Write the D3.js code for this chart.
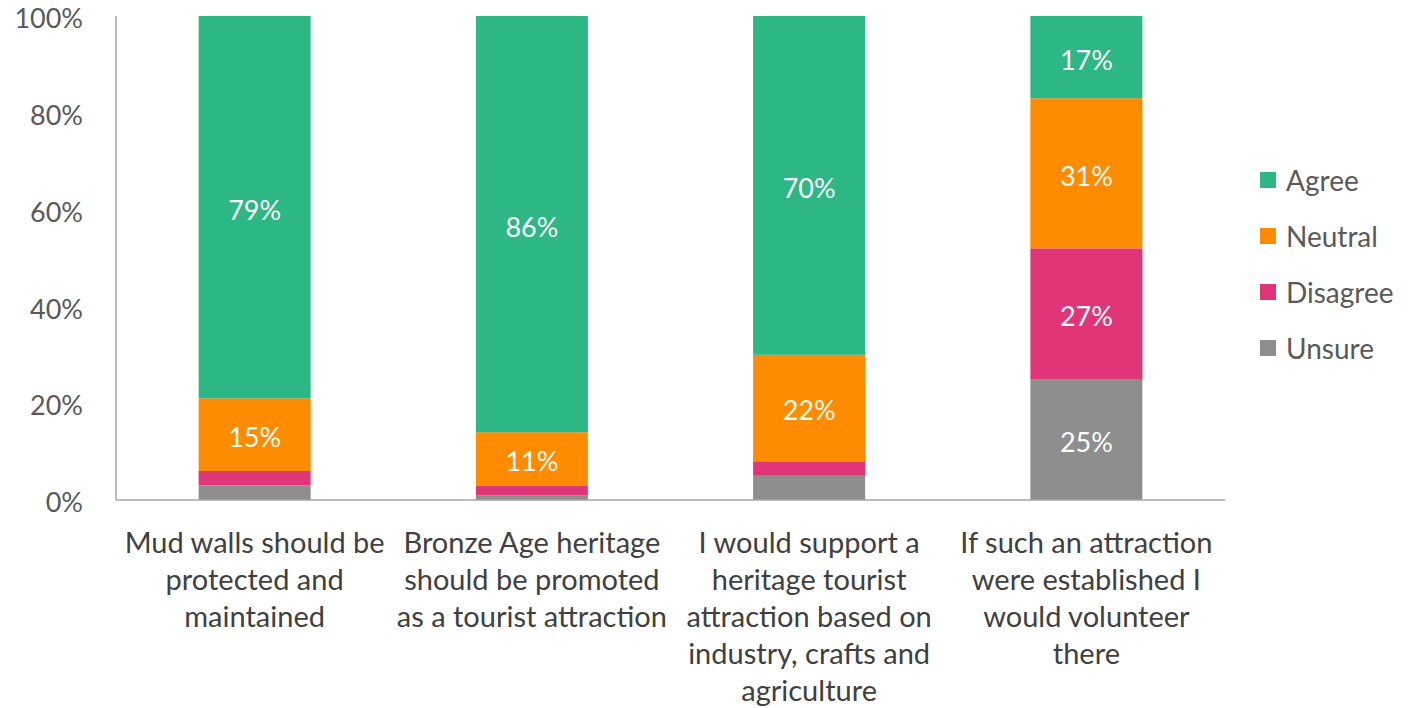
<!DOCTYPE html>
<html><head><meta charset="utf-8">
<script src="https://cdn.jsdelivr.net/npm/d3@7"></script>
<style>body{margin:0;background:#fff}svg text{font-family:"Lato","Open Sans",sans-serif}</style>
</head><body><svg id="c" width="1418" height="708"></svg>
<script>
const categories = [
  ["Mud walls should be","protected and","maintained"],
  ["Bronze Age heritage","should be promoted","as a tourist attraction"],
  ["I would support a","heritage tourist","attraction based on","industry, crafts and","agriculture"],
  ["If such an attraction","were established I","would volunteer","there"]
];
const seriesNames = ["Unsure","Disagree","Neutral","Agree"];
const unsure   = [3, 1, 5, 25];
const disagree = [3, 2, 3, 27];
const neutral  = [15, 11, 22, 31];
const agree    = [79, 86, 70, 17];
const yTicks = [0, 20, 40, 60, 80, 100];
const colors = {Agree:"#2cb785", Neutral:"#ff8b00", Disagree:"#e1357a", Unsure:"#8e8e8e"};
const legendOrder = ["Agree","Neutral","Disagree","Unsure"];

(function(){
const svg = d3.select("#c");
const mLeft = 116, mRight = 1225, mTop = 16, mBottom = 500;
const x = d3.scaleBand().domain(d3.range(categories.length)).range([mLeft, mRight]).padding(0);
const y = d3.scaleLinear().domain([0, 100]).range([mBottom, mTop]);
const bw = x.bandwidth() * 0.404;

const rows = categories.map((c, i) => ({i, Unsure: unsure[i], Disagree: disagree[i], Neutral: neutral[i], Agree: agree[i]}));
const stack = d3.stack().keys(seriesNames)(rows);

const g = svg.append("g");
stack.forEach(layer => {
  const key = layer.key;
  layer.forEach((d, j) => {
    const x0 = x(j) + (x.bandwidth() - bw) / 2;
    g.append("rect").attr("x", x0).attr("width", bw)
      .attr("y", y(d[1])).attr("height", y(d[0]) - y(d[1]))
      .attr("fill", colors[key]);
    const v = d[1] - d[0];
    if (v >= 10) {
      g.append("text").attr("x", x0 + bw / 2).attr("y", (y(d[0]) + y(d[1])) / 2 + 3)
        .attr("dy", "0.35em").attr("text-anchor", "middle")
        .attr("fill", "#fff").attr("font-size", 27).text(v + "%");
    }
  });
});

svg.append("line").attr("x1", mLeft).attr("x2", mLeft).attr("y1", y(100)).attr("y2", mBottom).attr("stroke", "#a6a6a6").attr("stroke-width", 1.5);
svg.append("line").attr("x1", mLeft).attr("x2", mRight).attr("y1", mBottom).attr("y2", mBottom).attr("stroke", "#a6a6a6").attr("stroke-width", 1.5);

const yAxis = d3.axisLeft(y).tickValues(yTicks).tickFormat(d => d + "%").tickSize(0).tickPadding(33);
const ya = svg.append("g").attr("transform", `translate(${mLeft},3)`).call(yAxis);
ya.select(".domain").remove();
ya.selectAll("text").attr("font-size", 27).attr("fill", "#595959").style("font-family", '"Lato","Open Sans",sans-serif');

categories.forEach((lines, i) => {
  const t = svg.append("text").attr("text-anchor", "middle").attr("font-size", 29).attr("fill", "#404040");
  lines.forEach((ln, k) => {
    t.append("tspan").attr("x", x(i) + x.bandwidth() / 2).attr("y", 553 + k * 37).text(ln);
  });
});

legendOrder.forEach((k, i) => {
  const yy = 180 + i * 56;
  svg.append("rect").attr("x", 1260).attr("y", yy - 8).attr("width", 16).attr("height", 16).attr("fill", colors[k]);
  svg.append("text").attr("x", 1286).attr("y", yy + 1).attr("dy", "0.35em").attr("font-size", 28).attr("fill", "#595959").text(k);
});
})();
</script></body></html>
